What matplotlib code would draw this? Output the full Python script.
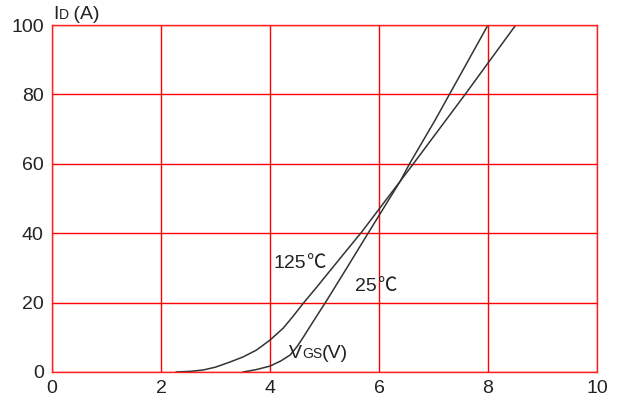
import matplotlib
matplotlib.use("Agg")
import matplotlib.pyplot as plt
from matplotlib.offsetbox import TextArea, HPacker, AnnotationBbox

plt.rcParams["font.family"] = ["Liberation Sans", "DejaVu Sans"]

# Transfer characteristics, values
vgs_125 = [2.28, 2.55, 2.78, 3.0, 3.27, 3.5, 3.75, 4.0, 4.24, 4.42, 4.61, 4.86,
           5.04, 5.44, 5.68, 6.39, 6.63, 7.58, 8.51]
id_125 = [0, 0.2, 0.6, 1.4, 2.9, 4.3, 6.3, 9.2, 12.6, 16.0, 19.8, 24.5,
          28.0, 35.7, 40.3, 55.0, 60, 80, 100]
vgs_25 = [3.51, 3.75, 4.0, 4.2, 4.37, 4.5, 4.61, 4.73, 4.86, 5.04, 5.41, 5.80,
          6.39, 6.56, 7.03, 8.0]
id_25 = [0, 0.7, 1.7, 3.2, 4.9, 7.4, 10.0, 13.0, 16.2, 20.6, 30.0, 40.0,
         55.0, 60, 72.6, 100]

x_ticks = [0, 2, 4, 6, 8, 10]
y_ticks = [0, 20, 40, 60, 80, 100]

ink = "#222222"

fig = plt.figure(figsize=(6.2, 4.05), dpi=100)
ax = fig.add_axes([52 / 620, 33 / 405, 545 / 620, 347 / 405])

ax.plot(vgs_125, id_125, color="#333333", lw=1.1)
ax.plot(vgs_25, id_25, color="#333333", lw=1.1)

ax.set_xlim(0, 10)
ax.set_ylim(0, 100)
ax.set_xticks(x_ticks)
ax.set_yticks(y_ticks)
ax.grid(True, color="#ff0000", lw=1.0)
ax.set_axisbelow(True)
for s in ax.spines.values():
    s.set_color("#ff2020")
    s.set_linewidth(1.0)
ax.tick_params(length=0, labelsize=14, colors=ink, pad=6)


def mixed_label(parts, xy, coords, align):
    boxes = []
    for t, fs, fam in parts:
        boxes.append(TextArea(t, textprops=dict(fontsize=fs, color=ink, family=fam)))
    pack = HPacker(children=boxes, align="baseline", pad=0, sep=0)
    ab = AnnotationBbox(pack, xy, xycoords=coords, box_alignment=align,
                        frameon=False, pad=0, annotation_clip=False)
    ax.add_artist(ab)


sans = ["Liberation Sans"]
cjk = ["Noto Sans CJK SC", "DejaVu Sans"]

mixed_label([("125", 14, sans), ("℃", 14, cjk)], (4.07, 31.7), "data", (0, 0.5))
mixed_label([("25", 14, sans), ("℃", 14, cjk)], (5.56, 25), "data", (0, 0.5))
mixed_label([("V", 14, sans), ("GS", 10, sans), ("(V)", 14, sans)], (4.35, 5.3), "data", (0, 0.5))
mixed_label([("I", 14, sans), ("D", 10, sans), (" (A)", 14, sans)], (0.002, 1.005), "axes fraction", (0, 0))

fig.savefig("out.png", dpi=100)
